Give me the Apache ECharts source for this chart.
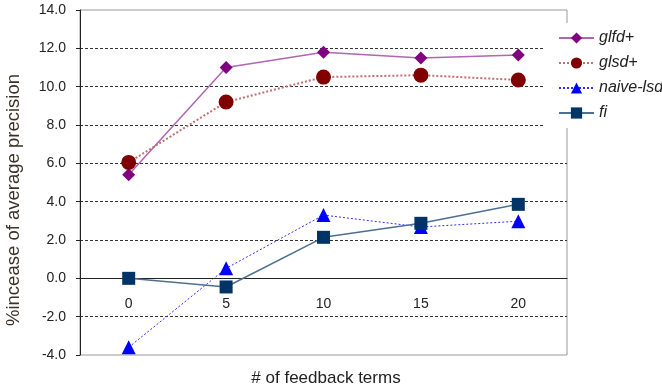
<!DOCTYPE html>
<html><head><meta charset="utf-8">
<script src="https://cdn.jsdelivr.net/npm/echarts@6/dist/echarts.min.js"></script>
<style>html,body{margin:0;padding:0;background:#fff}#c{width:662px;height:392px}</style>
</head><body><div id="c"></div>
<script>
const categories = ['0', '5', '10', '15', '20'];
const glfd = [5.4, 11.0, 11.8, 11.5, 11.65];
const glsd = [6.05, 9.2, 10.5, 10.6, 10.35];
const naiveLsd = [-3.6, 0.52, 3.3, 2.68, 2.98];
const fi = [0.0, -0.45, 2.14, 2.87, 3.86];
const yTicks = [-4, -2, 0, 2, 4, 6, 8, 10, 12, 14];

const font = 'Liberation Sans, Arial, sans-serif';
const gridTop = 10, gridBottom = 37, H = 392;
const plotH = H - gridTop - gridBottom;
const yMin = yTicks[0], yMax = yTicks[yTicks.length - 1];
const zeroOffset = -plotH * (0 - yMin) / (yMax - yMin);

const chart = echarts.init(document.getElementById('c'));
chart.setOption({
  animation: false,
  backgroundColor: '#fff',
  grid: { left: 80, right: 95, top: gridTop, bottom: gridBottom, show: true, borderColor: '#999', borderWidth: 1 },
  xAxis: {
    type: 'category', data: categories, boundaryGap: true, position: 'bottom', offset: zeroOffset,
    axisLine: { onZero: false, lineStyle: { color: '#222', width: 1 } },
    axisTick: { inside: true, length: 5, lineStyle: { color: '#222' } },
    axisLabel: { color: '#222', fontSize: 14, fontFamily: font, margin: 19 },
    splitLine: { show: false }
  },
  yAxis: {
    type: 'value', min: yMin, max: yMax, interval: 2,
    axisLine: { show: true, onZero: false, lineStyle: { color: '#222', width: 1 } },
    axisTick: { show: true, length: 4, lineStyle: { color: '#222' } },
    axisLabel: { color: '#222', fontSize: 14, fontFamily: font, margin: 14, formatter: v => v.toFixed(1) },
    splitLine: { show: true, lineStyle: { type: [3, 2], width: 1,
      color: yTicks.map(v => (v === 0 || v === yMin || v === yMax) ? 'rgba(0,0,0,0)' : '#333') } }
  },
  legend: {
    orient: 'vertical', left: 543, top: 23, backgroundColor: '#fff',
    padding: [7, 20, 7, 15], itemWidth: 35, itemHeight: 14, itemGap: 9,
    textStyle: { fontStyle: 'italic', fontSize: 16, fontFamily: font, color: '#222' },
    data: ['glfd+', 'glsd+', 'naive-lsd', 'fi']
  },
  graphic: [
    { type: 'text', x: 14, y: 200, rotation: Math.PI / 2,
      style: { text: '%incease of average precision', fontSize: 18.5, fontFamily: font, fill: '#3a3228', textAlign: 'center', textVerticalAlign: 'middle' } },
    { type: 'text', x: 326, y: 378,
      style: { text: '# of feedback terms', fontSize: 17, fontFamily: font, fill: '#222', textAlign: 'center', textVerticalAlign: 'middle' } }
  ],
  series: [
    { name: 'glfd+', type: 'line', data: glfd, symbol: 'diamond', symbolSize: 13,
      itemStyle: { color: '#800080' }, lineStyle: { color: '#b066b0', width: 1.5 } },
    { name: 'glsd+', type: 'line', data: glsd, symbol: 'circle', symbolSize: 15,
      itemStyle: { color: '#800000' }, lineStyle: { color: '#c07070', width: 2, type: [2, 2] } },
    { name: 'naive-lsd', type: 'line', data: naiveLsd, symbol: 'triangle', symbolSize: 14,
      itemStyle: { color: '#0000ff' }, lineStyle: { color: '#3030ff', width: 1, type: [2, 2] } },
    { name: 'fi', type: 'line', data: fi, symbol: 'rect', symbolSize: 13,
      itemStyle: { color: '#003366' }, lineStyle: { color: '#4d7090', width: 1.5 } }
  ]
});
</script></body></html>
